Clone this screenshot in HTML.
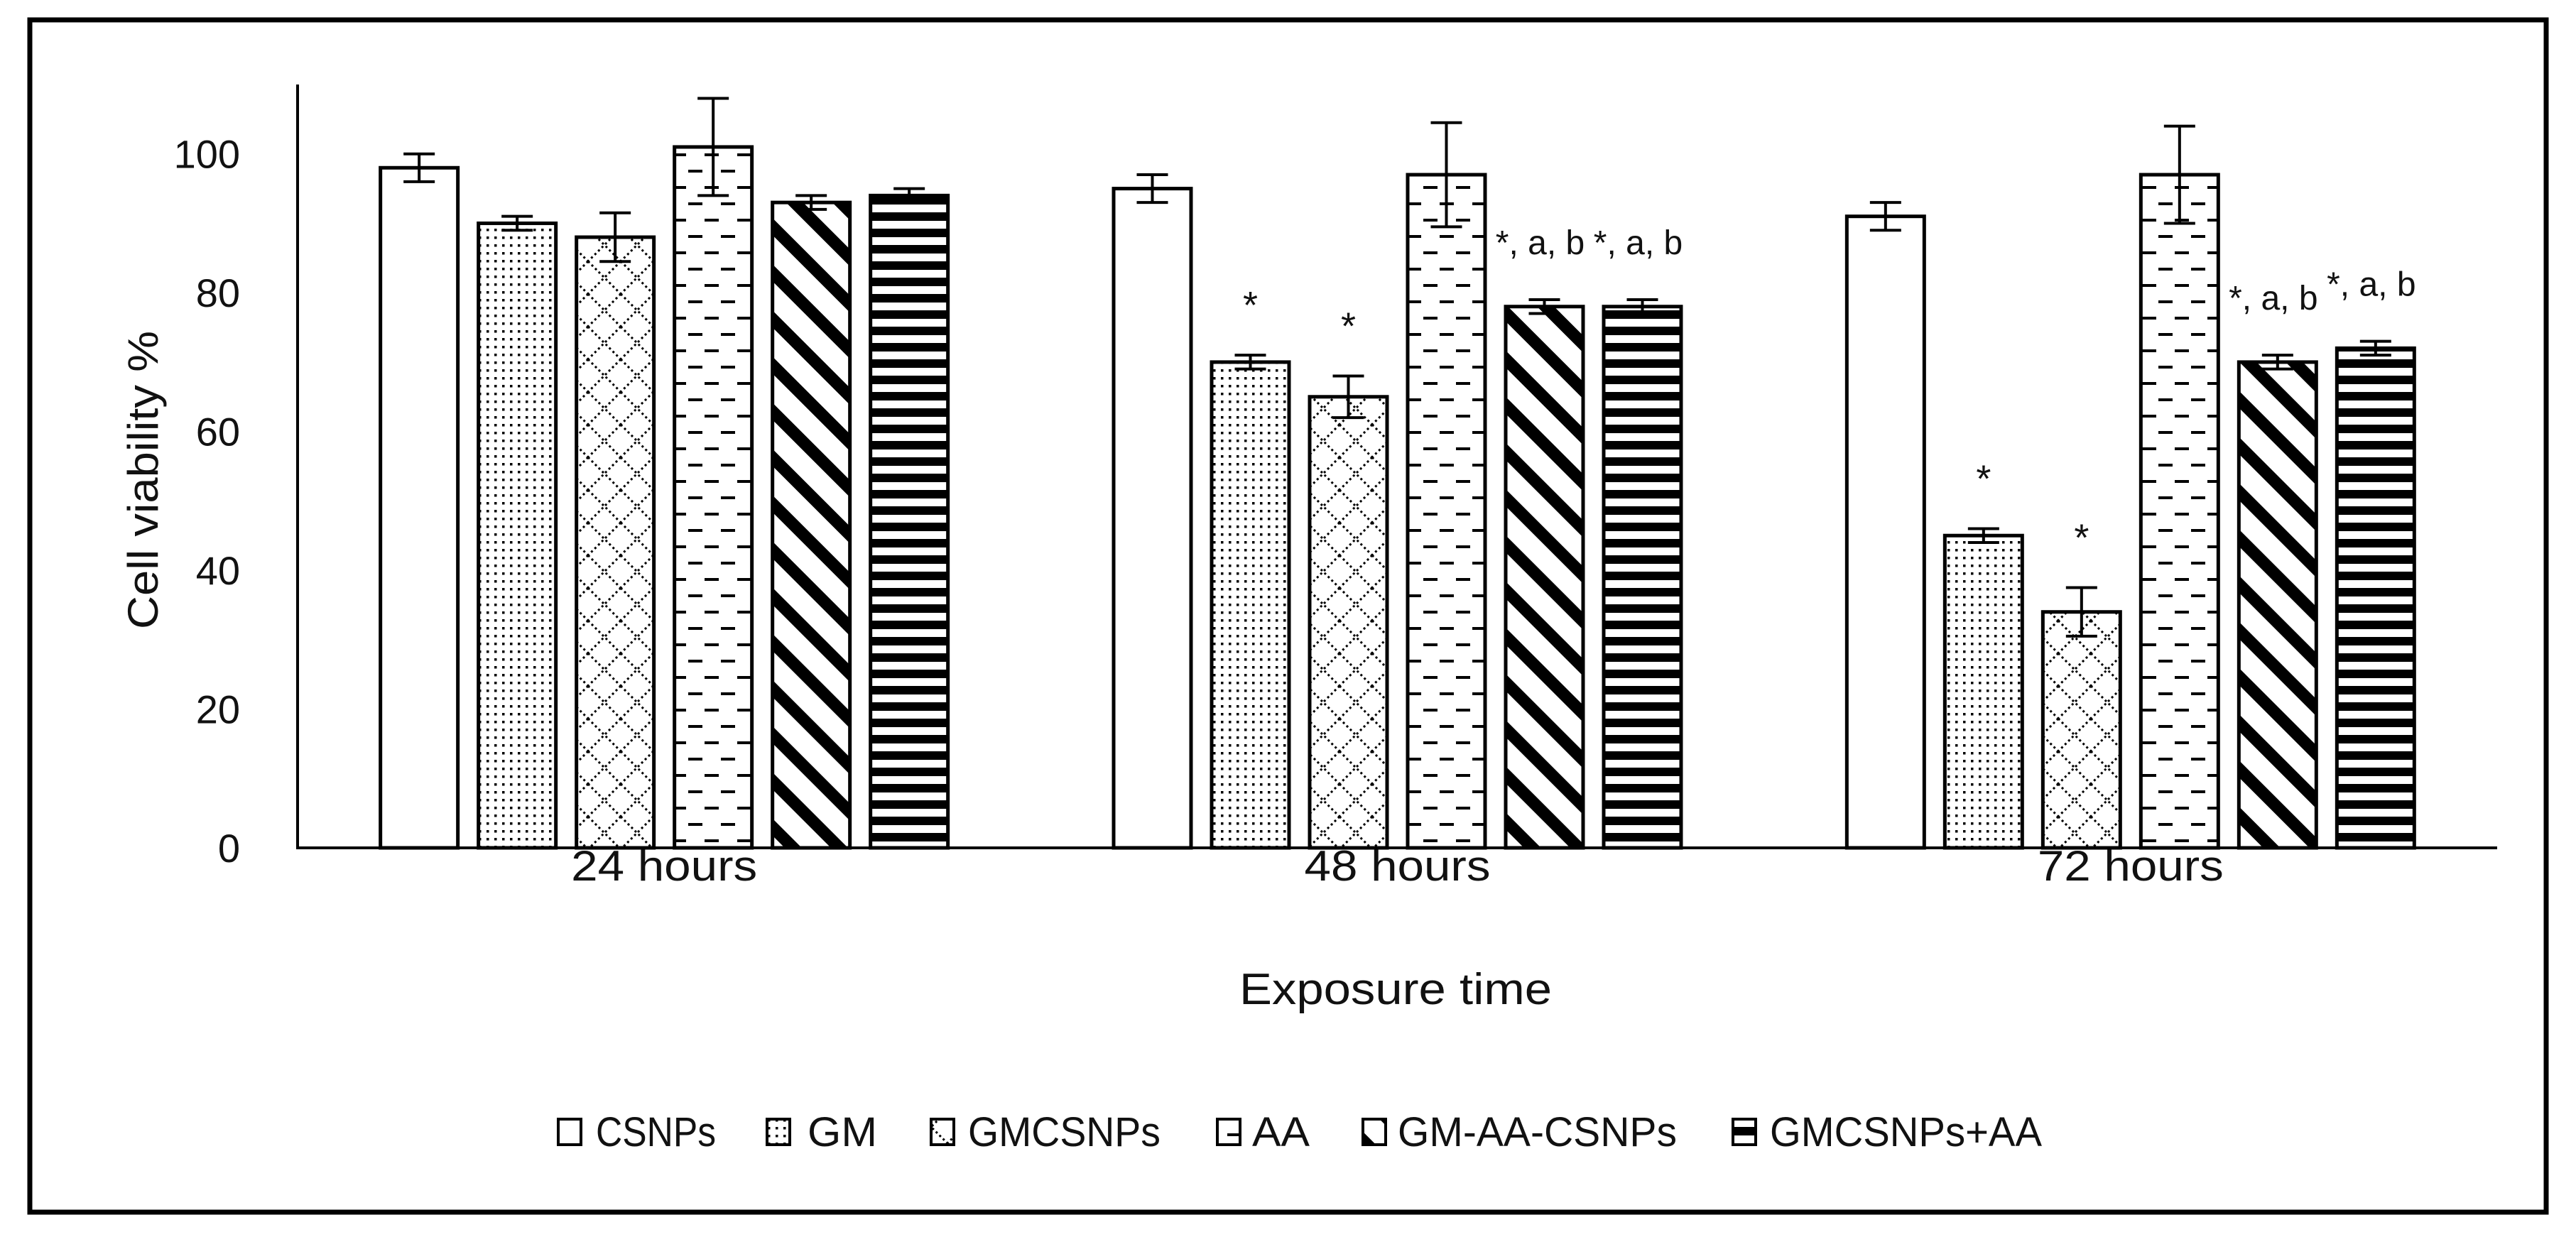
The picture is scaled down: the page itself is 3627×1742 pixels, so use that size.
<!DOCTYPE html>
<html><head><meta charset="utf-8"><style>
html,body{margin:0;padding:0;background:#fff;}
svg{display:block;}
text{font-family:"Liberation Sans",sans-serif;fill:#111;}
</style></head><body>
<svg id="chart" width="3627" height="1742" viewBox="0 0 3627 1742" xmlns="http://www.w3.org/2000/svg">
<defs>
<pattern id="p-dots" width="11" height="11" patternUnits="userSpaceOnUse"><rect x="3" y="3" width="3.5" height="3.5" fill="#000"/></pattern>
<pattern id="p-diamond" width="46" height="46" patternUnits="userSpaceOnUse"><path d="M0,0 L46,46 M46,0 L0,46" stroke="#000" stroke-width="3" stroke-dasharray="3,4"/></pattern>
<pattern id="p-dash" width="46" height="46" patternUnits="userSpaceOnUse"><path d="M3,11 H23 M26,34 H46" stroke="#000" stroke-width="4"/><path d="M-20,34 H-3" stroke="#000" stroke-width="4"/></pattern>
<pattern id="p-diag" width="46" height="46" patternUnits="userSpaceOnUse" patternTransform="rotate(45)"><rect x="0" y="0" width="46" height="17" fill="#000"/></pattern>
<pattern id="p-horiz" width="23" height="23" patternUnits="userSpaceOnUse"><rect x="0" y="0" width="23" height="12" fill="#000"/></pattern>
</defs>
<rect x="42" y="28" width="3543" height="1679" fill="none" stroke="#000" stroke-width="7"/>
<g id="plot"></g>
</svg>
<script>
const categories = ["24 hours", "48 hours", "72 hours"];
const seriesNames = ["CSNPs", "GM", "GMCSNPs", "AA", "GM-AA-CSNPs", "GMCSNPs+AA"];
const csnps = [98, 95, 91];
const gm = [90, 70, 45];
const gmcsnps = [88, 65, 34];
const aa = [101, 97, 97];
const gmAaCsnps = [93, 78, 70];
const gmcsnpsAa = [94, 78, 72];
const errCsnps = [2, 2, 2];
const errGm = [1, 1, 1];
const errGmcsnps = [3.5, 3, 3.5];
const errAa = [7, 7.5, 7];
const errGmAaCsnps = [1, 1, 1];
const errGmcsnpsAa = [1, 1, 1];
const annotations = [["", "", "", "", "", ""], ["", "*", "*", "", "*, a, b", "*, a, b"], ["", "*", "*", "", "*, a, b", "*, a, b"]];
const yTicks = [0, 20, 40, 60, 80, 100];

const seriesVals = [csnps, gm, gmcsnps, aa, gmAaCsnps, gmcsnpsAa];
const seriesErr = [errCsnps, errGm, errGmcsnps, errAa, errGmAaCsnps, errGmcsnpsAa];
const fills = ["#fff", "url(#p-dots)", "url(#p-diamond)", "url(#p-dash)", "url(#p-diag)", "url(#p-horiz)"];
const X0 = 419, X1 = 3516, Y0 = 1194, YMAX = 110, Ytop = 119;
const band = (X1 - X0) / categories.length;
const step = 138, bw = 109;
function y(v){ return Y0 - v * (Y0 - Ytop) / YMAX; }
function xc(ci, si){ return X0 + band * ci + band / 2 + (si - 2.5) * step; }

const NS = "http://www.w3.org/2000/svg";
const g = document.getElementById("plot");
function mk(tag, attrs, txt){
  const e = document.createElementNS(NS, tag);
  for (const k in attrs) e.setAttribute(k, attrs[k]);
  if (txt !== undefined) e.textContent = txt;
  g.appendChild(e);
  return e;
}
yTicks.forEach(t => {
  const e = mk("text", {x: 338, y: y(t) + 20, "text-anchor": "end", "font-size": 56}, String(t));
  
  
});
categories.forEach((c, ci) => {
  seriesVals.forEach((vals, si) => {
    const v = vals[ci], cx = xc(ci, si);
    const r = mk("rect", {x: cx - bw/2, y: y(v), width: bw, height: Y0 - y(v), fill: fills[si], stroke: "#000", "stroke-width": 5});
    
    
    const e = seriesErr[si][ci];
    const eb = mk("path", {d: `M${cx},${y(v+e)} V${y(v-e)} M${cx-22},${y(v+e)} H${cx+22} M${cx-22},${y(v-e)} H${cx+22}`, stroke: "#000", "stroke-width": 4, fill: "none"});
    
    
    const a = annotations[ci][si];
    if (a) {
      const star = a === "*";
      const t = mk("text", {x: cx - (star ? 0 : 6), y: y(v + e) - (star ? 52 : 64), "text-anchor": "middle", "font-size": star ? 54 : 48}, a);
      
      
    }
  });
  const lab = mk("text", {x: X0 + band * ci + band / 2, y: 1240, "text-anchor": "middle", "font-size": 60, textLength: 262, lengthAdjust: "spacingAndGlyphs"}, c);
  
  
});
const ax = mk("path", {d: `M${X0},${Ytop} V${Y0} H${X1}`, stroke: "#000", "stroke-width": 4, fill: "none"});


const yt = mk("text", {x: 0, y: 0, transform: "translate(222,676) rotate(-90)", "text-anchor": "middle", "font-size": 60, textLength: 420, lengthAdjust: "spacingAndGlyphs"}, "Cell viability %");


const xt = mk("text", {x: 1965, y: 1414, "text-anchor": "middle", "font-size": 62, textLength: 440, lengthAdjust: "spacingAndGlyphs"}, "Exposure time");


const legBox = [786, 1080, 1311, 1714, 1919, 2440];
const legTxt = [[839, 169], [1137, 98], [1363, 271], [1763, 81], [1968, 393], [2492, 383]];
seriesNames.forEach((n, i) => {
  const b = mk("rect", {x: legBox[i], y: 1576, width: 32, height: 36, fill: fills[i], stroke: "#000", "stroke-width": 4});
  
  
  const t = mk("text", {x: legTxt[i][0], y: 1614, "font-size": 58, textLength: legTxt[i][1], lengthAdjust: "spacingAndGlyphs"}, n);
  
  
});
</script>
</body></html>
